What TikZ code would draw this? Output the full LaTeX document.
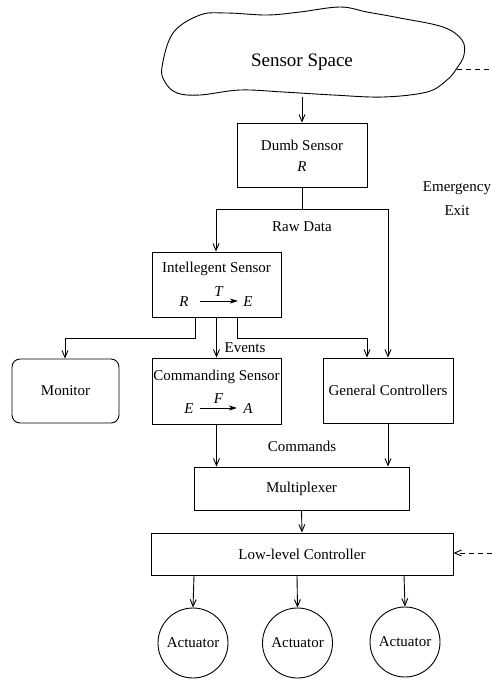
\documentclass[tikz,border=0pt]{standalone}
\usepackage{fontspec}
\setmainfont{Liberation Serif}
\usetikzlibrary{arrows.meta,shapes.geometric}
\begin{document}
\begin{tikzpicture}[x=1pt,y=-1pt,
  every node/.style={font=\fontsize{15}{17}\selectfont, inner sep=0pt},
  box/.style={draw, line width=0.9pt, rectangle},
  arr/.style={-{Straight Barb[length=7pt,width=6pt]}, line width=0.9pt},
  ln/.style={line width=0.9pt},
  mathar/.style={-{Stealth[length=8pt,width=5pt,inset=2pt]}, line width=0.8pt},
  act/.style={draw, circle, line width=0.9pt, minimum size=70pt}
]
\useasboundingbox (0,0) rectangle (492,681);
% cloud
\draw[line width=0.9pt] plot[smooth cycle, tension=0.6] coordinates {
  (162,67) (173,33) (200,15) (227,13) (267,15) (300,12) (340,7) (367,12)
  (400,18) (443,27) (462,40) (464,55) (457,68) (447,80) (427,92) (383,97)
  (333,95) (283,92) (240,90) (200,95) (177,93) (165,82)};
\node[font=\fontsize{19}{21}\selectfont] (space) at (302,62) {Sensor Space};
\coordinate (cloudb) at (302,97);
\coordinate (cloudr) at (457,69);
\coordinate (exitr) at (492,69);
\draw[ln, dash pattern=on 5pt off 4pt] (cloudr) -- (exitr);

% dumb sensor
\node[box, minimum width=130pt, minimum height=64pt] (dumb) at (302,155) {};
\node (dumbt) at (302,145) {Dumb Sensor};
\node (dumbr) at (302,167) {\textit{R}};
\draw[arr] (cloudb) -- (dumb.north);

\node (emerg) at (457,188) {Emergency};
\node (exit) at (457,211) {Exit};

% intelligent sensor
\node[box, minimum width=129pt, minimum height=65pt] (intel) at (216.5,284.5) {};
\node (intelt) at (216.5,269) {Intellegent Sensor};
\node (ir) at (184,302) {\textit{R}};
\node (ie) at (248,302) {\textit{E}};
\draw[mathar] (200,301) -- node[above=4pt] (it) {\textit{T}} (238,301);

% raw data split
\coordinate (rd) at (302,209);
\coordinate (rdl) at (216,209);
\coordinate (rdr) at (388,209);
\node (raw) at (302,227) {Raw Data};
\draw[ln] (dumb.south) -- (rd);
\draw[arr] (rd) -- (rdl) -- (intel.north -| rdl);

% lower row
\node[draw, rounded corners=8pt, line width=0.9pt, minimum width=107pt, minimum height=64pt] (mon) at (65.5,391) {Monitor};
\node[box, minimum width=129pt, minimum height=66pt] (cmd) at (216.5,391) {};
\node (cmdt) at (216.5,377) {Commanding Sensor};
\node (ce) at (189,409) {\textit{E}};
\node (ca) at (248,409) {\textit{A}};
\draw[mathar] (200,408) -- node[above=4pt] (cf) {\textit{F}} (237,408);
\node[box, minimum width=130pt, minimum height=65pt] (gen) at (388,390.5) {General Controllers};

\draw[arr] (rd) -- (rdr) -- (gen.north -| rdr);

\coordinate (il) at (195,317);
\coordinate (ir2) at (237,317);
\draw[arr] (il) -- (195,338) -- (65,338) -- (mon.north -| 65,0);
\draw[arr] (intel.south) -- (cmd.north);
\draw[arr] (ir2) -- (237,338) -- (367,338) -- (gen.north -| 367,0);
\node (events) at (245,348) {Events};

% multiplexer
\node[box, minimum width=215pt, minimum height=43pt] (mux) at (301.5,488.5) {Multiplexer};
\draw[arr] (cmd.south) -- (mux.north -| cmd.south);
\draw[arr] (gen.south) -- (mux.north -| gen.south);
\node (commands) at (302,446) {Commands};

% low-level controller
\node[box, minimum width=302pt, minimum height=42pt] (llc) at (302,554) {Low-level Controller};
\draw[arr] (mux.south) -- (llc.north);
\coordinate (exitb) at (492,553);
\draw[ln, dash pattern=on 5pt off 4pt, -{Straight Barb[length=7pt,width=6pt]}] (exitb) -- (llc.east |- exitb);

% actuators
\node[act] (a1) at (193,643) {Actuator};
\node[act] (a2) at (297.5,643) {Actuator};
\node[act] (a3) at (405,642) {Actuator};
\draw[arr] (llc.south -| 194,0) -- (a1.north);
\draw[arr] (llc.south -| 297,0) -- (a2.north);
\draw[arr] (llc.south -| 404,0) -- (a3.north);
\end{tikzpicture}
\end{document}
